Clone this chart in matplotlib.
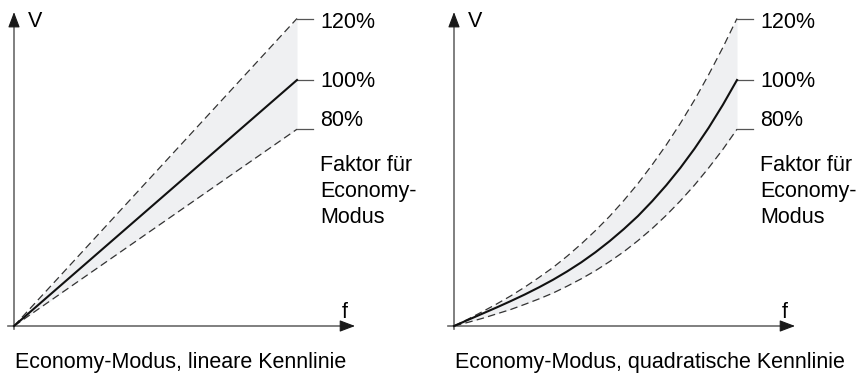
import matplotlib
matplotlib.use("Agg")
import matplotlib.pyplot as plt

# ---- data -------------------------------------------------------------
# frequency normalised to the end point of each characteristic
f_linear = [0.0, 1.0]
v_linear_80 = [0.0, 0.80]
v_linear_100 = [0.0, 1.00]
v_linear_120 = [0.0, 1.25]

f_quad = [0.00, 0.05, 0.10, 0.15, 0.20, 0.25, 0.30, 0.35, 0.40, 0.45, 0.50,
          0.55, 0.60, 0.65, 0.70, 0.75, 0.80, 0.85, 0.90, 0.95, 1.00]
v_quad_80 = [0.000, 0.015, 0.031, 0.049, 0.067, 0.088, 0.110, 0.134, 0.162, 0.192, 0.225,
             0.262, 0.302, 0.347, 0.396, 0.450, 0.509, 0.573, 0.643, 0.718, 0.800]
v_quad_100 = [0.000, 0.025, 0.050, 0.075, 0.101, 0.128, 0.157, 0.188, 0.222, 0.259, 0.300,
              0.345, 0.394, 0.447, 0.507, 0.572, 0.643, 0.721, 0.806, 0.899, 1.000]
v_quad_120 = [0.000, 0.028, 0.058, 0.089, 0.122, 0.158, 0.197, 0.238, 0.284, 0.334, 0.388,
              0.446, 0.510, 0.579, 0.655, 0.736, 0.824, 0.919, 1.022, 1.132, 1.250]

factor_labels = ["80%", "100%", "120%"]
note_lines = ["Faktor für", "Economy-", "Modus"]
panel_titles = ["Economy-Modus, lineare Kennlinie",
                "Economy-Modus, quadratische Kennlinie"]
y_name = "V"
x_name = "f"

# ---- style ------------------------------------------------------------
plt.rcParams["font.family"] = ["Liberation Sans", "DejaVu Sans"]
FS = 15.5
FILL = "#eff0f2"
DASH = (0, (6.0, 3.4))
AXIS = "#6a6a6a"
W, H = 858, 373

fig = plt.figure(figsize=(W / 100, H / 100), dpi=100)


def make_axes(x0_px):
    # plot box: origin at (x0_px, 326 px from top), f=1 -> +283 px, V=1 -> +246 px
    ax = fig.add_axes([x0_px / W, (H - 326) / H, 283 / W, 246 / H])
    ax.set_xlim(0, 1)
    ax.set_ylim(0, 1)
    ax.axis("off")
    return ax


def draw_panel(ax, f, v80, v100, v120, title):
    ax.fill_between(f, v80, v120, color=FILL, lw=0, zorder=1, clip_on=False)
    ax.plot(f, v120, color="#333333", lw=0.9, ls=DASH, zorder=3, clip_on=False)
    ax.plot(f, v80, color="#333333", lw=0.9, ls=DASH, zorder=3, clip_on=False)
    ax.plot(f, v100, color="#111111", lw=1.5, zorder=4, clip_on=False)

    # axis lines
    ax.plot([0, 0], [-0.012, 1.23], color=AXIS, lw=1.2, zorder=2, clip_on=False)
    ax.plot([-0.022, 1.16], [0, 0], color=AXIS, lw=1.2, zorder=2, clip_on=False)
    # arrow heads
    head = dict(arrowstyle="-|>,head_length=0.95,head_width=0.36",
                color="#1a1a1a", lw=0.8, mutation_scale=10,
                shrinkA=0, shrinkB=0)
    ax.annotate("", xy=(0, 1.276), xytext=(0, 1.226), arrowprops=head,
                annotation_clip=False)
    ax.annotate("", xy=(1.205, 0), xytext=(1.158, 0), arrowprops=head,
                annotation_clip=False)
    ax.text(0.048, 1.215, y_name, fontsize=FS, ha="left", va="baseline",
            clip_on=False)
    ax.text(1.17, 0.032, x_name, fontsize=FS, ha="center", va="baseline",
            clip_on=False)

    # leaders and factor labels at the curve ends
    ends = [v80[-1], v100[-1], v120[-1]]
    text_shift = [0.011, -0.030, -0.037]
    for lab, v, dv in zip(factor_labels, ends, text_shift):
        ax.plot([f[-1], 1.057], [v, v], color="#555555", lw=0.9,
                zorder=3, clip_on=False)
        ax.text(1.081, v + dv, lab, fontsize=FS, ha="left", va="baseline",
                clip_on=False)

    for i, line in enumerate(note_lines):
        ax.text(1.081, 0.630 - i * 0.1055, line, fontsize=FS, ha="left",
                va="baseline", clip_on=False)
    ax.text(0.0035, -0.171, title, fontsize=FS, ha="left", va="baseline",
            clip_on=False)


ax_l = make_axes(14)
draw_panel(ax_l, f_linear, v_linear_80, v_linear_100, v_linear_120,
           panel_titles[0])
ax_r = make_axes(454)
draw_panel(ax_r, f_quad, v_quad_80, v_quad_100, v_quad_120, panel_titles[1])

fig.savefig("out.png", dpi=100, facecolor="white")
